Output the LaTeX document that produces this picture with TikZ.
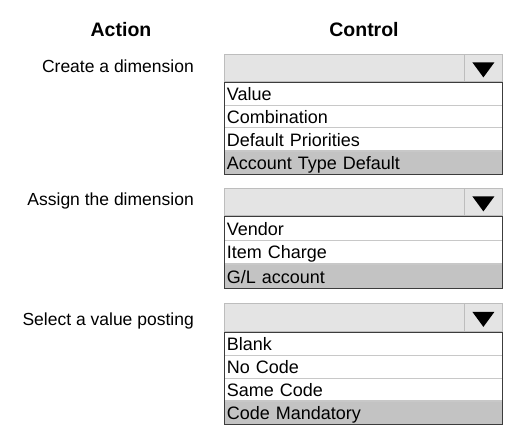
\documentclass[tikz,border=0pt]{standalone}
\usepackage{fontspec}
\setmainfont{Liberation Sans}
\definecolor{combofill}{HTML}{E4E4E4}
\definecolor{comboline}{HTML}{BDBDBD}
\definecolor{rowline}{HTML}{C8C8C8}
\definecolor{selfill}{HTML}{C3C3C3}
\definecolor{listline}{HTML}{3C3C3C}
\tikzset{
  hdr/.style={anchor=base, inner sep=0pt, font=\fontsize{19.5}{22}\selectfont\bfseries},
  action/.style={anchor=base east, inner sep=0pt, font=\fontsize{17.5}{20}\selectfont},
  combo/.style={draw=comboline, fill=combofill, line width=0.8pt, anchor=north west,
    minimum width=278pt, minimum height=27pt, inner sep=0pt},
  btn/.style={draw=comboline, line width=0.8pt, anchor=north east,
    minimum width=38pt, minimum height=27pt, inner sep=0pt},
  itemrow/.style={anchor=north west, minimum height=#1, text width=273pt,
    inner xsep=2.5pt, inner ysep=0pt, text height=16pt, text depth=2pt, align=left,
    font=\fontsize{18}{20}\selectfont, draw=rowline, line width=0.8pt, fill=white},
  selrow/.style={fill=selfill},
  listframe/.style={draw=listline, line width=0.9pt},
}
\begin{document}
\begin{tikzpicture}[x=1pt, y=-1pt]
  \fill[white] (0,0) rectangle (507,428);
  \useasboundingbox (0,0) rectangle (507,428);

  % headings
  \node[hdr] (hact) at (121,37) {Action};
  \node[hdr] (hctl) at (364,37) {Control};

  % create a dimension
  \node[action] (act1) at (194,73) {Create a dimension};
  \node[combo] (box1) at (224,54) {};
  \node[btn] (btn1) at (box1.north east) {};
  \fill (btn1.center) ++(-11,-5.5) -- ++(22,0) -- ++(-11,15) -- cycle;
  \foreach \txt [count=\i] in {Value,Combination,Default Priorities}
    \node[itemrow=22.75pt] (opta\i) at (224,{82+(\i-1)*22.75}) {\txt};
  \node[itemrow=22.75pt, selrow] (opta4) at (opta3.south west) {Account Type Default};
  \draw[listframe] (opta1.north west) rectangle (opta4.south east);

  % assign the dimension
  \node[action] (act2) at (194,205) {Assign the dimension};
  \node[combo] (box2) at (224,188) {};
  \node[btn] (btn2) at (box2.north east) {};
  \fill (btn2.center) ++(-11,-5.5) -- ++(22,0) -- ++(-11,15) -- cycle;
  \foreach \txt [count=\i] in {Vendor,Item Charge}
    \node[itemrow=23.67pt] (optb\i) at (224,{216+(\i-1)*23.67}) {\txt};
  \node[itemrow=23.67pt, selrow] (optb3) at (optb2.south west) {G/L account};
  \draw[listframe] (optb1.north west) rectangle (optb3.south east);

  % select a value posting
  \node[action] (act3) at (194,325) {Select a value posting};
  \node[combo, minimum height=28pt] (box3) at (224,303) {};
  \node[btn, minimum height=28pt] (btn3) at (box3.north east) {};
  \fill (btn3.center) ++(-11,-5.5) -- ++(22,0) -- ++(-11,15) -- cycle;
  \foreach \txt [count=\i] in {Blank,No Code,Same Code}
    \node[itemrow=22.75pt] (optc\i) at (224,{332+(\i-1)*22.75}) {\txt};
  \node[itemrow=22.75pt, selrow] (optc4) at (optc3.south west) {Code Mandatory};
  \draw[listframe] (optc1.north west) rectangle (optc4.south east);
\end{tikzpicture}
\end{document}
